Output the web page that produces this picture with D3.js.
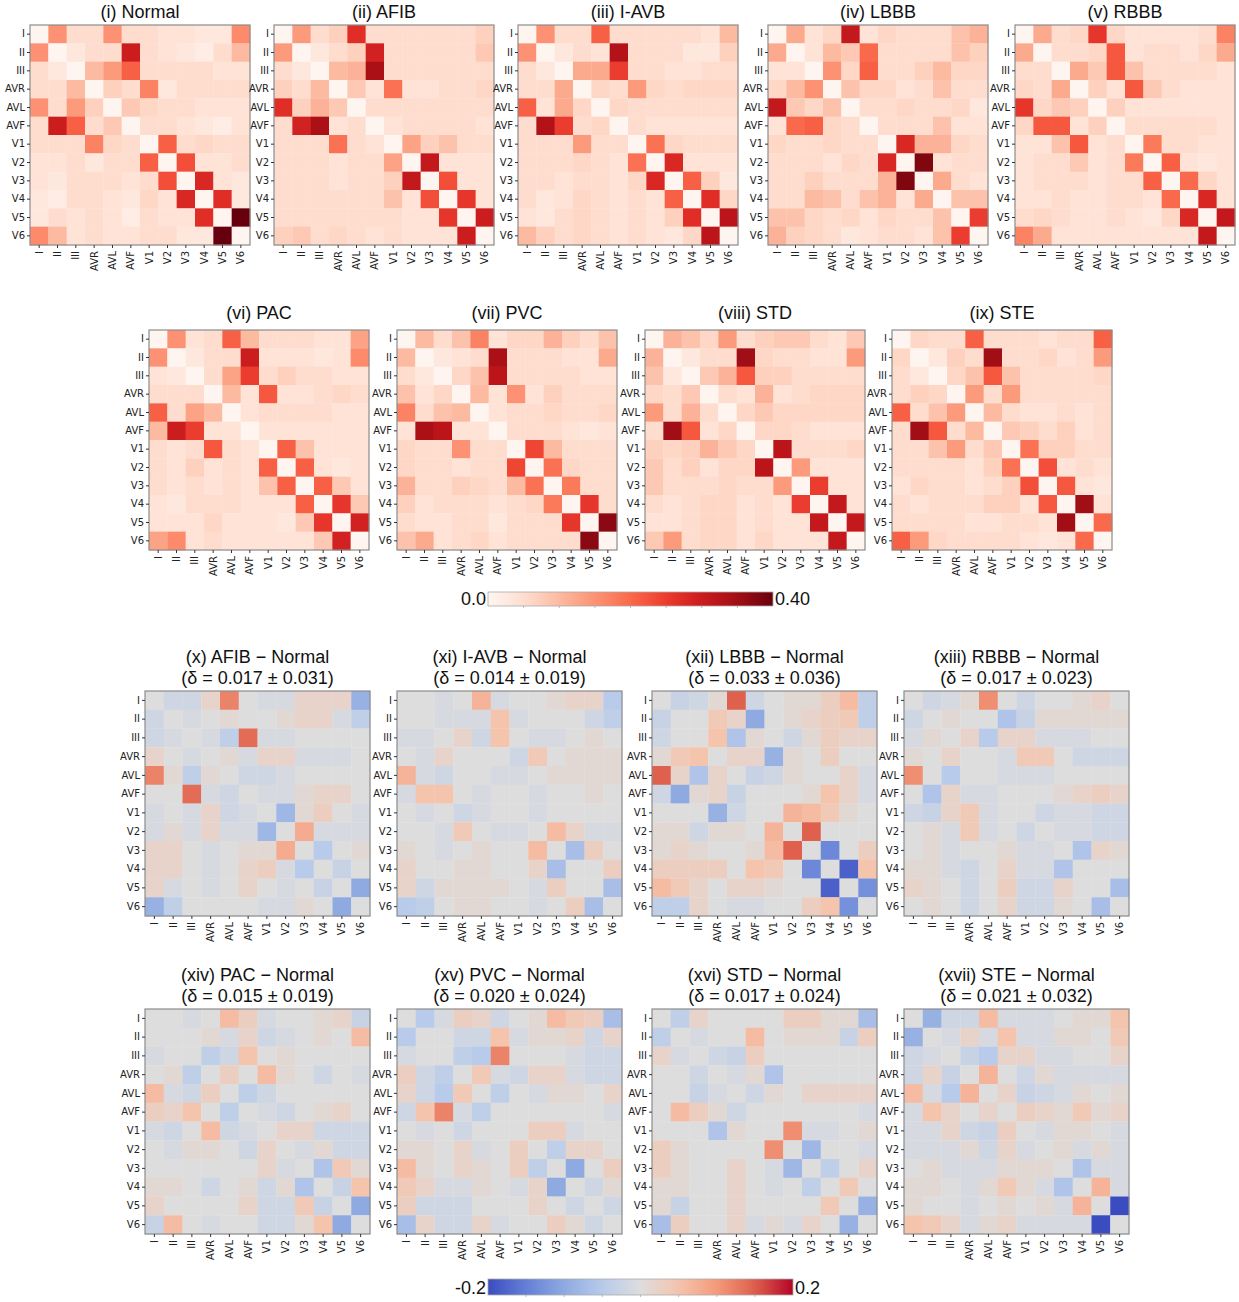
<!DOCTYPE html>
<html>
<head>
<meta charset="utf-8">
<script src="https://cdn.jsdelivr.net/npm/d3@7"></script>
<style>
body { margin: 0; background: #fff; }
.tick text { font-family: "DejaVu Sans", sans-serif; font-size: 10px; fill: #222; }
.tick line { stroke: #333; }
.title { font-family: "Liberation Sans", Arial, sans-serif; font-size: 18px; fill: #111; text-anchor: middle; }
.cbl { font-family: "Liberation Sans", Arial, sans-serif; font-size: 18px; fill: #111; }
</style>
</head>
<body>
<svg id="chart" width="1239" height="1302"></svg>
<script>
//
// Data (upper triangles, row by row; matrices are symmetric, diagonal = 0)
//
var leads = ["I","II","III","AVR","AVL","AVF","V1","V2","V3","V4","V5","V6"];

var classNames = ["(i) Normal","(ii) AFIB","(iii) I-AVB","(iv) LBBB","(v) RBBB","(vi) PAC","(vii) PVC","(viii) STD","(ix) STE"];
var diffNames = ["(x) AFIB \u2212 Normal","(xi) I-AVB \u2212 Normal","(xii) LBBB \u2212 Normal","(xiii) RBBB \u2212 Normal",
                 "(xiv) PAC \u2212 Normal","(xv) PVC \u2212 Normal","(xvi) STD \u2212 Normal","(xvii) STE \u2212 Normal"];
var diffStats = ["0.017 \u00b1 0.031","0.014 \u00b1 0.019","0.033 \u00b1 0.036","0.017 \u00b1 0.023",
                 "0.015 \u00b1 0.019","0.020 \u00b1 0.024","0.017 \u00b1 0.024","0.021 \u00b1 0.032"];

var normal = [
 [0.15,0.05,0.05,0.15,0.05,0.05,0.04,0.04,0.03,0.03,0.16],
 [0.03,0.05,0.05,0.30,0.05,0.04,0.03,0.02,0.05,0.10],
 [0.10,0.14,0.21,0.05,0.05,0.05,0.05,0.04,0.04],
 [0.07,0.05,0.17,0.03,0.05,0.05,0.05,0.05],
 [0.08,0.06,0.05,0.05,0.04,0.04,0.04],
 [0.05,0.05,0.04,0.03,0.02,0.04],
 [0.21,0.05,0.06,0.05,0.05],
 [0.23,0.04,0.04,0.05],
 [0.28,0.04,0.03],
 [0.27,0.03],
 [0.40]];
var afib = [
 [0.14,0.05,0.07,0.27,0.05,0.05,0.05,0.05,0.05,0.05,0.07],
 [0.03,0.05,0.07,0.29,0.05,0.05,0.05,0.05,0.05,0.08],
 [0.10,0.11,0.34,0.05,0.05,0.05,0.05,0.05,0.05],
 [0.08,0.04,0.19,0.04,0.04,0.05,0.05,0.06],
 [0.05,0.05,0.05,0.05,0.05,0.05,0.05],
 [0.04,0.05,0.05,0.05,0.05,0.04],
 [0.13,0.07,0.09,0.05,0.05],
 [0.31,0.04,0.04,0.04],
 [0.23,0.04,0.04],
 [0.26,0.04],
 [0.30]];
var iavb = [
 [0.15,0.05,0.05,0.21,0.05,0.05,0.05,0.05,0.05,0.04,0.10],
 [0.03,0.05,0.04,0.33,0.05,0.05,0.05,0.03,0.03,0.07],
 [0.12,0.12,0.25,0.05,0.05,0.04,0.04,0.05,0.05],
 [0.06,0.05,0.14,0.06,0.05,0.06,0.06,0.06],
 [0.06,0.05,0.05,0.05,0.05,0.05,0.05],
 [0.05,0.04,0.04,0.04,0.04,0.04],
 [0.19,0.06,0.05,0.05,0.05],
 [0.28,0.04,0.04,0.04],
 [0.21,0.07,0.03],
 [0.27,0.06],
 [0.32]];
var lbbb = [
 [0.12,0.04,0.06,0.31,0.04,0.06,0.05,0.05,0.05,0.09,0.11],
 [0.04,0.10,0.08,0.20,0.05,0.05,0.05,0.05,0.09,0.07],
 [0.15,0.06,0.21,0.05,0.05,0.07,0.10,0.06,0.06],
 [0.09,0.06,0.06,0.04,0.05,0.09,0.05,0.05],
 [0.05,0.05,0.06,0.05,0.05,0.06,0.03],
 [0.05,0.05,0.05,0.09,0.04,0.04],
 [0.28,0.11,0.11,0.06,0.05],
 [0.38,0.04,0.05,0.05],
 [0.12,0.05,0.04],
 [0.09,0.09],
 [0.25]];
var rbbb = [
 [0.12,0.05,0.06,0.26,0.06,0.04,0.04,0.04,0.04,0.05,0.17],
 [0.05,0.05,0.06,0.22,0.04,0.05,0.05,0.04,0.06,0.12],
 [0.12,0.08,0.22,0.09,0.05,0.05,0.05,0.05,0.04],
 [0.07,0.04,0.22,0.08,0.05,0.04,0.04,0.04],
 [0.07,0.04,0.04,0.04,0.04,0.04,0.04],
 [0.05,0.05,0.05,0.05,0.05,0.04],
 [0.18,0.05,0.05,0.04,0.04],
 [0.21,0.04,0.03,0.04],
 [0.20,0.06,0.04],
 [0.28,0.04],
 [0.31]];
var pac = [
 [0.15,0.04,0.05,0.21,0.10,0.05,0.05,0.05,0.04,0.04,0.13],
 [0.03,0.05,0.05,0.30,0.04,0.04,0.04,0.03,0.04,0.16],
 [0.05,0.13,0.25,0.05,0.07,0.05,0.05,0.04,0.04],
 [0.10,0.04,0.22,0.04,0.04,0.05,0.06,0.05],
 [0.04,0.05,0.05,0.05,0.05,0.04,0.04],
 [0.04,0.04,0.04,0.04,0.04,0.04],
 [0.21,0.09,0.04,0.04,0.04],
 [0.21,0.04,0.03,0.04],
 [0.21,0.08,0.04],
 [0.26,0.08],
 [0.29]];
var pvc = [
 [0.10,0.05,0.09,0.17,0.04,0.06,0.06,0.11,0.07,0.05,0.09],
 [0.03,0.04,0.05,0.34,0.05,0.05,0.05,0.04,0.04,0.12],
 [0.06,0.09,0.32,0.05,0.05,0.05,0.05,0.04,0.04],
 [0.10,0.04,0.15,0.04,0.07,0.05,0.05,0.05],
 [0.04,0.05,0.05,0.06,0.05,0.05,0.06],
 [0.05,0.05,0.05,0.04,0.03,0.04],
 [0.24,0.10,0.05,0.05,0.05],
 [0.19,0.06,0.05,0.05],
 [0.18,0.05,0.05],
 [0.26,0.05],
 [0.37]];
var std = [
 [0.11,0.09,0.06,0.14,0.05,0.07,0.08,0.08,0.05,0.04,0.08],
 [0.03,0.05,0.05,0.35,0.06,0.05,0.05,0.04,0.04,0.14],
 [0.08,0.11,0.22,0.07,0.07,0.05,0.05,0.05,0.05],
 [0.05,0.04,0.11,0.04,0.05,0.06,0.06,0.06],
 [0.06,0.08,0.06,0.06,0.06,0.06,0.06],
 [0.06,0.06,0.05,0.04,0.04,0.04],
 [0.32,0.05,0.05,0.05,0.06],
 [0.14,0.04,0.04,0.04],
 [0.25,0.04,0.04],
 [0.31,0.04],
 [0.31]];
var ste = [
 [0.06,0.05,0.05,0.21,0.05,0.05,0.05,0.04,0.05,0.05,0.21],
 [0.03,0.07,0.05,0.35,0.05,0.05,0.06,0.04,0.05,0.14],
 [0.06,0.09,0.22,0.09,0.05,0.05,0.05,0.05,0.06],
 [0.14,0.05,0.14,0.05,0.05,0.05,0.05,0.05],
 [0.10,0.05,0.04,0.04,0.05,0.04,0.05],
 [0.08,0.07,0.05,0.07,0.04,0.05],
 [0.19,0.07,0.07,0.05,0.05],
 [0.23,0.04,0.05,0.04],
 [0.22,0.04,0.03],
 [0.35,0.04],
 [0.20]];

// differences against Normal
var dAfib = [
 [-0.02,-0.02,0.02,0.12,0,-0.01,-0.01,0.02,0.02,0.02,-0.09],
 [-0.01,0,0.01,0,0,0.01,0.02,0.02,-0.01,-0.04],
 [-0.01,-0.04,0.14,-0.01,-0.01,0,0,0,0],
 [0.01,-0.01,0.02,0.02,-0.01,-0.01,-0.01,0],
 [-0.02,-0.02,-0.01,0,0,0,0],
 [-0.01,-0.01,0.01,0.02,0.02,0],
 [-0.08,0.01,0.03,0,-0.01],
 [0.08,-0.01,-0.01,-0.01],
 [-0.05,0,0.01],
 [-0.03,0],
 [-0.10]];
var dIavb = [
 [0,-0.01,0,0.07,-0.01,0,0,0.01,0.02,0.02,-0.05],
 [-0.01,-0.01,-0.01,0.05,-0.01,0,0,0,-0.02,-0.04],
 [0.02,-0.02,0.05,0,-0.01,-0.01,0,0.01,0],
 [0,0,-0.02,0.04,0,0.01,0.01,0.01],
 [-0.01,-0.01,0,0.01,0.01,0.01,0.01],
 [0,-0.01,0,0,0.01,0],
 [-0.01,0,0,0,0],
 [0.06,0.02,-0.01,-0.01],
 [-0.07,0.03,0],
 [0,0.03],
 [-0.07]];
var dLbbb = [
 [-0.03,-0.02,0.01,0.15,-0.02,0,0.01,0.01,0.03,0.06,-0.04],
 [0,0.04,0.02,-0.10,0,0.01,0.02,0.03,0.04,-0.04],
 [0.05,-0.06,0.01,0,-0.02,0.01,0.03,0.02,0.02],
 [0.02,0.02,-0.09,0.01,0,0.03,0,0],
 [-0.03,-0.02,0.01,0,0,0.02,-0.01],
 [0,0,0.01,0.05,0.02,-0.01],
 [0.07,0.06,0.04,0.01,0],
 [0.15,0,0,0],
 [-0.14,0,0.03],
 [-0.18,0.05],
 [-0.13]];
var dRbbb = [
 [-0.02,-0.01,0.01,0.11,0,-0.02,0,0,0.01,0.02,0],
 [0.01,0,0,-0.06,-0.03,0.01,0.01,0.01,0.01,0.01],
 [0.02,-0.05,0.02,0.02,-0.01,-0.01,-0.01,0,0],
 [0,-0.01,0.04,0.04,0,-0.02,-0.02,-0.02],
 [-0.01,-0.01,-0.01,0,0,0,0],
 [0,0,0.01,0.02,0.03,0.02],
 [-0.02,-0.01,-0.01,-0.02,-0.02],
 [-0.01,-0.01,-0.02,-0.02],
 [-0.06,0.02,0.01],
 [0,0],
 [-0.07]];
var dPac = [
 [0,-0.01,0,0.06,0.03,-0.01,0,0,0.01,0.02,-0.03],
 [0,0.01,-0.01,0.02,-0.02,-0.01,0,0.01,0,0.06],
 [-0.04,-0.02,0.05,0,0.01,0,0,0,0],
 [0.03,0,0.06,0.01,0,-0.02,0,-0.01],
 [-0.04,-0.02,0,0,0,0,0],
 [-0.01,-0.02,0,0.01,0.02,0],
 [0.02,0.02,-0.02,-0.02,-0.02],
 [-0.01,0.01,-0.02,-0.02],
 [-0.06,0.04,0.01],
 [-0.03,0.05],
 [-0.10]];
var dPvc = [
 [-0.05,-0.01,0.03,0.02,-0.02,0,0.01,0.06,0.04,0.03,-0.07],
 [0,-0.02,-0.02,0.05,-0.01,0.01,0.01,0.02,-0.02,0.02],
 [-0.04,-0.05,0.12,0,0,0,-0.01,-0.02,-0.02],
 [0.04,-0.01,-0.02,0.02,0.02,-0.01,-0.02,-0.02],
 [-0.04,0,-0.01,0.01,0.01,0,0.02],
 [0,0,0,0,0,-0.01],
 [0.03,0.03,-0.01,0,0],
 [-0.04,0.02,0.02,0],
 [-0.10,0,0.03],
 [-0.02,0.01],
 [-0.02]];
var dStd = [
 [-0.04,0.02,0,0,0,0,0.03,0.03,0.01,0.01,-0.07],
 [-0.01,0,0,0.06,0,0.01,0.01,0.01,-0.03,0.03],
 [-0.02,-0.03,0.03,0,0,0,0,0,0],
 [-0.01,0.01,-0.06,0,0,0,0,0],
 [-0.02,0.01,0,0.02,0.02,0.02,0.02],
 [0,0,0,0,0,-0.01],
 [0.11,-0.01,-0.01,0,0.01],
 [-0.08,0,0,-0.01],
 [-0.04,0,0.02],
 [0.04,0],
 [-0.09]];
var dSte = [
 [-0.09,-0.02,-0.02,0.06,-0.01,-0.01,-0.01,0,0.01,0.01,0.05],
 [-0.01,0.02,-0.01,0.05,-0.01,-0.01,0.01,0.01,0,0.04],
 [-0.03,-0.05,0.02,0.02,-0.01,-0.01,0,0,0.02],
 [0.07,0,-0.02,0.01,-0.01,-0.01,-0.01,-0.01],
 [0.02,-0.03,-0.02,-0.01,0.01,0,0.01],
 [0.03,0.02,0.01,0.04,0.01,0.02],
 [-0.01,0.01,0.01,0,-0.01],
 [0.01,-0.01,0.01,-0.01],
 [-0.06,-0.01,-0.01],
 [0.07,-0.01],
 [-0.20]];

var classData = [normal, afib, iavb, lbbb, rbbb, pac, pvc, std, ste];
var diffData = [dAfib, dIavb, dLbbb, dRbbb, dPac, dPvc, dStd, dSte];

//
// Colour maps
//
var reds = d3.scaleSequential(d3.interpolateReds).domain([0, 0.4]);
var coolwarmStops = ["rgb(59,76,192)","rgb(100,128,215)","rgb(143,170,225)","rgb(184,203,235)",
  "rgb(221,221,221)","rgb(245,196,173)","rgb(244,154,123)","rgb(222,96,77)","rgb(180,4,38)"];
var coolwarm = d3.scaleSequential(d3.piecewise(d3.interpolateRgb, coolwarmStops)).domain([-0.2, 0.2]);

var svg = d3.select("#chart");
svg.append("rect").attr("width", 1239).attr("height", 1302).attr("fill", "#fff");

function fullMatrix(tri)
{
	var cells = [];
	for (var i = 0; i < 12; i++)
		for (var j = 0; j < 12; j++)
		{
			var v = 0;
			if (j > i) v = tri[i][j - i - 1];
			else if (j < i) v = tri[j][i - j - 1];
			cells.push({r: leads[i], c: leads[j], v: v});
		}
	return cells;
}

function drawPanel(tri, px, py, size, color, titles, titleGap)
{
	var g = svg.append("g").attr("transform", "translate(" + px + "," + py + ")");
	var x = d3.scaleBand().domain(leads).range([0, size]);
	var y = d3.scaleBand().domain(leads).range([0, size]);

	g.selectAll("rect.cell").data(fullMatrix(tri)).enter().append("rect")
		.attr("class", "cell")
		.attr("x", function(d) { return x(d.c); })
		.attr("y", function(d) { return y(d.r); })
		.attr("width", x.bandwidth() + 0.3)
		.attr("height", y.bandwidth() + 0.3)
		.attr("fill", function(d) { return color(d.v); });

	g.append("rect").attr("width", size).attr("height", size)
		.attr("fill", "none").attr("stroke", "#8c8c8c").attr("stroke-width", 1.2);

	var ya = g.append("g").call(d3.axisLeft(y).tickSize(3).tickPadding(2));
	ya.select(".domain").remove();

	var xa = g.append("g").attr("transform", "translate(0," + size + ")")
		.call(d3.axisBottom(x).tickSize(3).tickPadding(2));
	xa.select(".domain").remove();
	xa.selectAll("text")
		.attr("transform", "rotate(-90)")
		.attr("x", -6).attr("y", 0).attr("dy", "0.35em")
		.style("text-anchor", "end");

	// title lines, last one sits just above the box
	for (var k = 0; k < titles.length; k++)
	{
		g.append("text").attr("class", "title")
			.attr("x", size / 2)
			.attr("y", -titleGap - (titles.length - 1 - k) * 21)
			.text(titles[k]);
	}
}

function drawColorbar(color, x0, y0, w, h, lo, hi, loText, hiText, id)
{
	var grad = svg.append("defs").append("linearGradient").attr("id", id);
	d3.range(0, 1.0001, 0.05).forEach(function(t) {
		grad.append("stop").attr("offset", t).attr("stop-color", color(lo + t * (hi - lo)));
	});
	svg.append("rect").attr("x", x0).attr("y", y0).attr("width", w).attr("height", h)
		.attr("fill", "url(#" + id + ")").attr("stroke", "#aaa").attr("stroke-width", 0.8);
	var s = d3.scaleLinear().domain([lo, hi]).range([x0, x0 + w]);
	svg.append("g").selectAll("line").data(d3.range(1, 8)).enter().append("line")
		.attr("x1", function(d) { return s(lo + d * (hi - lo) / 8); })
		.attr("x2", function(d) { return s(lo + d * (hi - lo) / 8); })
		.attr("y1", y0 + h).attr("y2", y0 + h + 2)
		.attr("stroke", "#aaa").attr("stroke-width", 0.8);
	svg.append("text").attr("class", "cbl").attr("x", x0 - 2).attr("y", y0 + h - 1)
		.style("text-anchor", "end").text(loText);
	svg.append("text").attr("class", "cbl").attr("x", x0 + w + 2).attr("y", y0 + h - 1)
		.text(hiText);
}

//
// Layout
//
var row1X = [30, 274, 518, 768, 1015];
var row2X = [149, 397, 645, 892];
var diffX = [145, 397, 652, 904];

classData.forEach(function(tri, i) {
	if (i < 5) drawPanel(tri, row1X[i], 25, 220, reds, [classNames[i]], 7);
	else drawPanel(tri, row2X[i - 5], 330, 220, reds, [classNames[i]], 11);
});
drawColorbar(reds, 488, 592, 285, 14, 0, 0.4, "0.0", "0.40", "gradReds");

diffData.forEach(function(tri, i) {
	var py = i < 4 ? 691 : 1009;
	drawPanel(tri, diffX[i % 4], py, 225, coolwarm, [diffNames[i], "(\u03b4 = " + diffStats[i] + ")"], 7);
});
drawColorbar(coolwarm, 488, 1279, 305, 16, -0.2, 0.2, "-0.2", "0.2", "gradCw");
</script>
</body>
</html>
